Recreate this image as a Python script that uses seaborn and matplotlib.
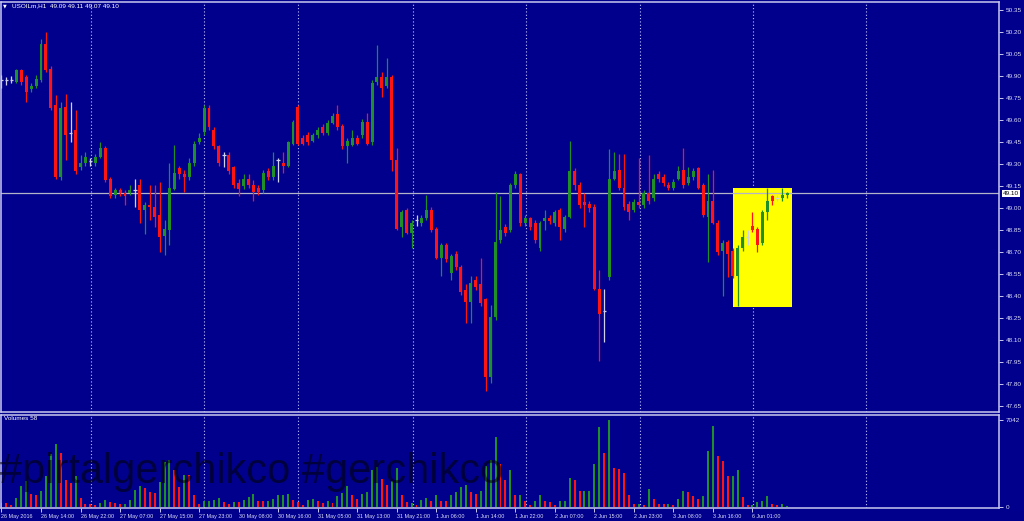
import numpy as np
import pandas as pd
import seaborn as sns
import matplotlib
matplotlib.use('Agg')
import matplotlib.pyplot as plt
from matplotlib.patches import Rectangle

# USOILm H1 candles
bar_open = [49.87, 49.87, 49.87, 49.86, 49.94, 49.89, 49.81, 49.83, 49.87, 50.12,
            49.95, 49.70, 49.21, 49.69, 49.51, 49.53, 49.28, 49.31, 49.32, 49.31,
            49.35, 49.41, 49.20, 49.09, 49.12, 49.10, 49.10, 49.12, 49.16, 48.99,
            49.02, 49.01, 48.95, 48.81, 48.85, 49.13, 49.27, 49.23, 49.21, 49.31,
            49.45, 49.52, 49.68, 49.53, 49.42, 49.36, 49.36, 49.28, 49.17, 49.15,
            49.20, 49.16, 49.14, 49.12, 49.25, 49.21, 49.33, 49.31, 49.29, 49.44,
            49.69, 49.48, 49.50, 49.46, 49.50, 49.55, 49.51, 49.58, 49.64, 49.56,
            49.42, 49.43, 49.48, 49.50, 49.59, 49.45, 49.86, 49.89, 49.83, 49.89,
            49.33, 48.87, 48.99, 48.83, 48.92, 48.90, 48.93, 48.99, 48.86, 48.66,
            48.75, 48.56, 48.69, 48.60, 48.44, 48.36, 48.51, 48.48, 48.38, 47.85,
            48.26, 48.78, 48.87, 48.85, 49.16, 49.23, 48.90, 48.93, 48.90, 48.73,
            48.91, 48.93, 48.90, 48.99, 48.86, 48.94, 49.25, 49.16, 49.04, 49.03,
            49.01, 48.45, 48.30, 48.53, 49.20, 49.26, 49.14, 49.03, 48.99, 49.04,
            49.02, 49.10, 49.07, 49.23, 49.21, 49.16, 49.14, 49.20, 49.26, 49.17,
            49.21, 49.27, 49.16, 48.94, 49.05, 48.90, 48.71, 48.77, 48.71, 48.54,
            48.73, 48.80, 48.88, 48.86, 48.76, 48.97, 49.08, 49.07, 49.07, 49.09]
bar_high = [49.91, 49.89, 49.90, 49.95, 49.95, 49.91, 49.85, 49.91, 50.15, 50.20,
            49.97, 49.77, 49.72, 49.78, 49.72, 49.67, 49.36, 49.38, 49.34, 49.37,
            49.45, 49.42, 49.21, 49.14, 49.14, 49.12, 49.16, 49.20, 49.20, 49.04,
            49.16, 49.16, 49.18, 48.92, 49.31, 49.43, 49.29, 49.26, 49.34, 49.46,
            49.51, 49.70, 49.70, 49.55, 49.43, 49.38, 49.38, 49.29, 49.20, 49.23,
            49.23, 49.19, 49.16, 49.26, 49.27, 49.38, 49.34, 49.38, 49.46, 49.60,
            49.70, 49.50, 49.52, 49.51, 49.55, 49.57, 49.60, 49.65, 49.70, 49.57,
            49.48, 49.53, 49.50, 49.61, 49.65, 49.87, 50.11, 49.93, 50.02, 49.91,
            49.41, 48.99, 49.00, 48.92, 48.95, 48.95, 49.09, 49.01, 48.87, 48.76,
            48.76, 48.69, 48.71, 48.61, 48.48, 48.54, 48.54, 48.66, 48.39, 48.34,
            49.11, 49.08, 48.89, 49.17, 49.25, 49.24, 48.95, 48.94, 48.92, 48.91,
            48.99, 48.95, 48.99, 49.00, 48.95, 49.46, 49.27, 49.18, 49.10, 49.05,
            49.03, 48.58, 48.45, 49.40, 49.38, 49.37, 49.37, 49.05, 49.06, 49.34,
            49.12, 49.36, 49.23, 49.25, 49.23, 49.18, 49.20, 49.29, 49.41, 49.28,
            49.27, 49.28, 49.17, 49.23, 49.26, 48.92, 48.78, 48.78, 48.73, 48.75,
            48.85, 48.85, 48.97, 48.87, 48.99, 49.14, 49.09, 49.09, 49.14, 49.11]
bar_low = [49.82, 49.84, 49.85, 49.85, 49.84, 49.72, 49.79, 49.82, 49.86, 49.93,
           49.67, 49.20, 49.19, 49.33, 49.45, 49.23, 49.26, 49.29, 49.29, 49.29,
           49.34, 49.18, 49.07, 49.07, 49.08, 49.02, 49.09, 49.01, 48.90, 48.82,
           48.92, 48.87, 48.70, 48.68, 48.75, 49.12, 49.20, 49.11, 49.19, 49.29,
           49.44, 49.50, 49.53, 49.40, 49.29, 49.28, 49.23, 49.14, 49.08, 49.13,
           49.14, 49.05, 49.09, 49.10, 49.19, 49.19, 49.18, 49.24, 49.28, 49.43,
           49.43, 49.43, 49.43, 49.45, 49.48, 49.50, 49.50, 49.57, 49.53, 49.40,
           49.31, 49.42, 49.43, 49.48, 49.43, 49.43, 49.84, 49.76, 49.82, 49.25,
           48.85, 48.80, 48.82, 48.73, 48.88, 48.88, 48.92, 48.84, 48.65, 48.54,
           48.63, 48.51, 48.58, 48.41, 48.22, 48.22, 48.44, 48.33, 47.75, 47.81,
           48.24, 48.76, 48.81, 48.84, 49.14, 48.88, 48.88, 48.85, 48.76, 48.71,
           48.85, 48.89, 48.88, 48.78, 48.84, 48.93, 49.12, 49.00, 48.87, 48.97,
           48.44, 47.96, 48.09, 48.51, 49.19, 49.12, 48.99, 48.92, 48.97, 49.00,
           49.00, 49.03, 49.05, 49.18, 49.15, 49.12, 49.12, 49.19, 49.14, 49.16,
           49.19, 49.13, 48.94, 48.63, 48.89, 48.68, 48.40, 48.53, 48.52, 48.33,
           48.71, 48.75, 48.84, 48.70, 48.75, 48.92, 49.02, 49.05, 49.05, 49.07]
bar_close = [49.87, 49.87, 49.87, 49.94, 49.86, 49.79, 49.83, 49.88, 50.12, 49.94,
             49.68, 49.21, 49.68, 49.50, 49.51, 49.25, 49.31, 49.35, 49.32, 49.35,
             49.41, 49.19, 49.08, 49.12, 49.10, 49.08, 49.12, 49.12, 48.99, 49.02,
             49.01, 48.94, 48.80, 48.86, 49.14, 49.24, 49.23, 49.21, 49.31, 49.44,
             49.48, 49.68, 49.55, 49.42, 49.31, 49.36, 49.25, 49.16, 49.13, 49.20,
             49.16, 49.11, 49.11, 49.24, 49.21, 49.29, 49.33, 49.29, 49.45, 49.59,
             49.44, 49.44, 49.45, 49.50, 49.53, 49.51, 49.58, 49.63, 49.55, 49.42,
             49.46, 49.48, 49.44, 49.59, 49.44, 49.85, 49.89, 49.82, 49.89, 49.33,
             48.86, 48.97, 48.83, 48.90, 48.92, 48.93, 48.99, 48.85, 48.66, 48.75,
             48.65, 48.67, 48.60, 48.43, 48.36, 48.49, 48.46, 48.35, 47.85, 48.26,
             48.77, 48.85, 48.83, 49.16, 49.23, 48.90, 48.93, 48.87, 48.78, 48.90,
             48.93, 48.91, 48.97, 48.87, 48.94, 49.25, 49.16, 49.02, 49.02, 49.00,
             48.45, 48.28, 48.30, 49.20, 49.25, 49.14, 49.01, 48.97, 49.04, 49.02,
             49.10, 49.05, 49.20, 49.20, 49.17, 49.14, 49.18, 49.25, 49.16, 49.21,
             49.25, 49.14, 48.95, 49.05, 48.90, 48.70, 48.76, 48.69, 48.54, 48.73,
             48.80, 48.80, 48.85, 48.75, 48.97, 49.05, 49.05, 49.07, 49.09, 49.10]
volumes = [297, 270, 162, 702, 1647, 2052, 1026, 972, 1296, 2457,
           4266, 5103, 4347, 2187, 1917, 2457, 702, 243, 243, 108,
           270, 567, 378, 297, 243, 243, 567, 1377, 1647, 1512,
           1188, 1107, 1998, 3618, 3807, 2997, 1566, 2592, 2538, 918,
           243, 432, 432, 567, 702, 378, 243, 378, 378, 567,
           756, 1026, 486, 486, 486, 648, 918, 918, 1026, 567,
           378, 162, 567, 648, 432, 297, 486, 324, 837, 1107,
           1647, 972, 648, 1053, 1188, 2943, 3186, 2268, 1728, 2052,
           3132, 918, 378, 297, 162, 567, 702, 432, 972, 486,
           486, 918, 1188, 1566, 1782, 1188, 1026, 1296, 3267, 3807,
           5697, 3456, 2187, 2997, 972, 972, 486, 162, 486, 972,
           432, 378, 108, 486, 486, 2322, 2187, 1296, 1296, 1296,
           3456, 6507, 4347, 7042, 3132, 3051, 2727, 918, 243, 243,
           162, 1431, 621, 243, 216, 243, 162, 621, 1296, 1188,
           837, 648, 891, 4482, 6588, 4131, 3672, 2457, 2457, 2997,
           783, 162, 162, 351, 486, 891, 216, 162, 243, 58]
vol_dir = ("rrrgggrrgg" "ggrrrgrrrr" "ggrrrggggr" "rrgggrrgrr" "rggggrrgrg"
           "ggrrgggggr" "rrggrrgrgg" "grrggggrrg" "grrgrggrgr" "rggggrrggg"
           "grrgrgrrgg" "rrrgggrrgg" "ggrgrrrrrg" "rgrrrgrggr" "rrgggrrrgg"
           "rrggggrrgg")
date_ticks = [0, 8, 16, 24, 32, 40, 48, 56, 64, 72, 80, 88, 96, 104, 112, 120, 128, 136, 144, 152]
date_labels = ["26 May 2016", "26 May 14:00", "26 May 22:00", "27 May 07:00", "27 May 15:00",
               "27 May 23:00", "30 May 08:00", "30 May 16:00", "31 May 05:00", "31 May 13:00",
               "31 May 21:00", "1 Jun 06:00", "1 Jun 14:00", "1 Jun 22:00", "2 Jun 07:00",
               "2 Jun 15:00", "2 Jun 23:00", "3 Jun 08:00", "3 Jun 16:00", "6 Jun 01:00"]
price_ticks = [47.65, 47.80, 47.95, 48.10, 48.25, 48.40, 48.55, 48.70, 48.85, 49.00,
               49.15, 49.30, 49.45, 49.60, 49.75, 49.90, 50.05, 50.20, 50.35]
grid_bars = [18.1, 41.0, 60.0, 83.3, 106.2, 129.3, 152.1, 175.0]
last_price = 49.10
box_x = (148.1, 160.0)
box_price = (48.326, 49.137)

BG = '#00008c'
GREEN = '#1f8f2a'
RED = '#ff1414'
DOJI = '#d0d0e8'
FRAME = '#c8c8f0'
TXT = '#dcdcf8'

sns.set_style('dark', {'axes.facecolor': BG, 'figure.facecolor': BG,
                       'axes.edgecolor': FRAME, 'axes.grid': False})
plt.rcParams['font.family'] = ['Liberation Sans', 'DejaVu Sans']

W, H = 1024, 521
def px_box(x0, y0, x1, y1):
    return [x0 / W, 1 - y1 / H, (x1 - x0) / W, (y1 - y0) / H]

fig = plt.figure(figsize=(W / 100, H / 100), dpi=100)
ax = fig.add_axes(px_box(0.5, 1.5, 999, 412))
axv = fig.add_axes(px_box(0.5, 414.5, 999, 508))

df = pd.DataFrame({'open': bar_open, 'high': bar_high, 'low': bar_low, 'close': bar_close})
df['i'] = np.arange(len(df))

# highlight box behind the last bars
ax.add_patch(Rectangle((box_x[0], box_price[0]), box_x[1] - box_x[0], box_price[1] - box_price[0],
                       facecolor='#ffff00', edgecolor='none', zorder=1))

for g in grid_bars:
    for a in (ax, axv):
        a.axvline(g, color='#c0c0ff', lw=0.8, ls=(0, (1, 2)), zorder=0.5)

ax.axhline(last_price, color='#b4b4c8', lw=0.9, zorder=1.5)

up = df[df.close > df.open]
dn = df[df.close < df.open]
fl = df[df.close == df.open]
for sub, col in ((up, GREEN), (dn, RED)):
    ax.vlines(sub.i, sub.low, sub.high, color=col, lw=0.9, zorder=2)
    ax.bar(sub.i, (sub.close - sub.open).abs(), bottom=sub[['open', 'close']].min(axis=1),
           width=0.6, color=col, linewidth=0, zorder=3)
ax.vlines(fl.i, fl.low, fl.high, color=DOJI, lw=0.9, zorder=2)
ax.hlines(fl.close, fl.i - 0.35, fl.i + 0.35, color=DOJI, lw=0.9, zorder=3)

# volumes
vdf = pd.DataFrame({'i': np.arange(len(volumes)), 'vol': volumes, 'dir': list(vol_dir)})
sns.barplot(data=vdf, x='i', y='vol', hue='dir', palette={'g': GREEN, 'r': RED},
            native_scale=True, width=0.4, dodge=False, errorbar=None, saturation=1,
            legend=False, linewidth=0, ax=axv)
axv.set_xlabel('')
axv.set_ylabel('')

for a in (ax, axv):
    a.set_xlim(-0.2, 201.9)
    for s in a.spines.values():
        s.set_color(FRAME)
        s.set_linewidth(1.1)
ax.set_ylim(47.610, 50.408)
axv.set_ylim(-122, 7490)

ax.yaxis.tick_right()
ax.set_yticks(price_ticks)
ax.set_yticklabels(['%.2f' % p for p in price_ticks])
ax.tick_params(axis='y', right=True, left=False, length=3, width=0.7, color=FRAME,
               labelcolor=TXT, labelsize=4.6, pad=2)
ax.tick_params(axis='x', bottom=False, labelbottom=False)

axv.yaxis.tick_right()
axv.set_yticks([0, 7042])
axv.set_yticklabels(['0', '7042'])
axv.tick_params(axis='y', right=True, left=False, length=3, width=0.7, color=FRAME,
                labelcolor=TXT, labelsize=4.6, pad=2)
axv.set_xticks(date_ticks)
axv.set_xticklabels(date_labels, ha='left')
axv.tick_params(axis='x', bottom=True, length=3, width=0.7, color=FRAME,
                labelcolor=TXT, labelsize=3.9, pad=1.5)

fig.text(3 / W, 1 - 6 / H, '\u25bc', fontsize=3.5, color='white', va='center', family=['DejaVu Sans'])
fig.text(12 / W, 1 - 6 / H, 'USOILm,H1  49.09 49.11 49.07 49.10', fontsize=4.6, color='white', va='center')
fig.text(4 / W, 1 - 419 / H, 'Volumes 58', fontsize=4.6, color='white', va='center')
fig.text(1003 / W, 1 - 193.5 / H, '%.2f' % last_price, fontsize=4.6, color='black', va='center',
         bbox=dict(facecolor='white', edgecolor='none', pad=0.6))
fig.text(-1 / W, 1 - 483 / H, '#pirtalgerchikco #gerchikco', fontsize=30, color='black',
         alpha=0.55, va='baseline', ha='left')

fig.savefig('out.png', dpi=100, facecolor=BG)
